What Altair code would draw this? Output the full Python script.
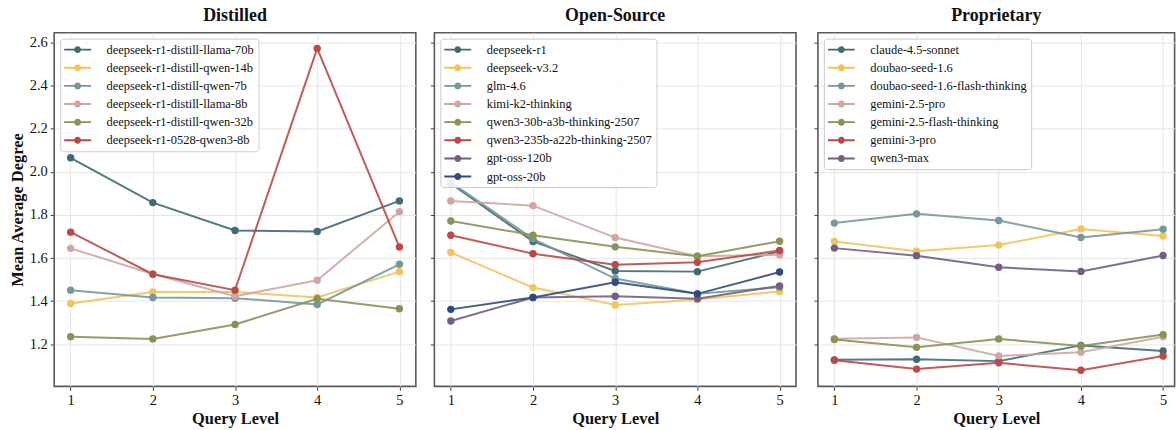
import altair as alt
import pandas as pd

levels = [1, 2, 3, 4, 5]

colors = ["#3E6B74", "#F2C35F", "#75999A", "#CFA6A3", "#8A9356", "#B94A48", "#735F83", "#2E4B7B"]

distilled_models = [
    "deepseek-r1-distill-llama-70b",
    "deepseek-r1-distill-qwen-14b",
    "deepseek-r1-distill-qwen-7b",
    "deepseek-r1-distill-llama-8b",
    "deepseek-r1-distill-qwen-32b",
    "deepseek-r1-0528-qwen3-8b",
]
distilled_values = [
    [2.065, 1.857, 1.728, 1.723, 1.865],
    [1.389, 1.443, 1.443, 1.417, 1.537],
    [1.451, 1.417, 1.414, 1.385, 1.571],
    [1.645, 1.526, 1.423, 1.497, 1.815],
    [1.235, 1.225, 1.292, 1.411, 1.365],
    [1.720, 1.525, 1.451, 2.572, 1.651],
]

open_models = [
    "deepseek-r1",
    "deepseek-v3.2",
    "glm-4.6",
    "kimi-k2-thinking",
    "qwen3-30b-a3b-thinking-2507",
    "qwen3-235b-a22b-thinking-2507",
    "gpt-oss-120b",
    "gpt-oss-20b",
]
open_values = [
    [1.946, 1.677, 1.540, 1.537, 1.631],
    [1.626, 1.463, 1.382, 1.408, 1.445],
    [1.951, 1.689, 1.505, 1.434, 1.465],
    [1.865, 1.843, 1.695, 1.608, 1.615],
    [1.772, 1.706, 1.652, 1.608, 1.678],
    [1.706, 1.620, 1.569, 1.580, 1.635],
    [1.308, 1.417, 1.423, 1.411, 1.471],
    [1.362, 1.417, 1.488, 1.434, 1.535],
]

prop_models = [
    "claude-4.5-sonnet",
    "doubao-seed-1.6",
    "doubao-seed-1.6-flash-thinking",
    "gemini-2.5-pro",
    "gemini-2.5-flash-thinking",
    "gemini-3-pro",
    "qwen3-max",
]
prop_values = [
    [1.128, 1.131, 1.122, 1.195, 1.169],
    [1.677, 1.632, 1.660, 1.735, 1.702],
    [1.762, 1.805, 1.774, 1.695, 1.734],
    [1.226, 1.232, 1.146, 1.163, 1.235],
    [1.222, 1.186, 1.225, 1.192, 1.245],
    [1.126, 1.085, 1.114, 1.080, 1.146],
    [1.646, 1.611, 1.557, 1.538, 1.612],
]

y_ticks = [1.2, 1.4, 1.6, 1.8, 2.0, 2.2, 2.4, 2.6]

FONT = "Liberation Serif"
SYMBOL = "M-1.93,-0.14H1.93V0.14H-1.93Z M0.5,0A0.5,0.5 0 1,1 -0.5,0A0.5,0.5 0 1,1 0.5,0Z"


def panel(title, models, values, first, width, xmax):
    rows = []
    for m, vals in zip(models, values):
        for lv, v in zip(levels, vals):
            rows.append({"model": m, "level": lv, "value": v})
    df = pd.DataFrame(rows)
    pal = colors[: len(models)]
    cscale = alt.Scale(domain=models, range=pal)
    # reversed order so the (hidden) stroke legend is not merged with the colour legend
    sscale = alt.Scale(domain=models[::-1], range=pal[::-1])
    x = alt.X(
        "level:Q",
        scale=alt.Scale(domain=[0.8, xmax], nice=False, zero=False),
        axis=alt.Axis(values=levels, format="d", title="Query Level"),
    )
    if first:
        yaxis = alt.Axis(values=y_ticks, format=".1f", title="Mean Average Degree")
    else:
        yaxis = alt.Axis(values=y_ticks, labels=False, title=None)
    y = alt.Y("value:Q", scale=alt.Scale(domain=[1.005, 2.645], nice=False, zero=False), axis=yaxis)
    lines = alt.Chart(df).mark_line(strokeWidth=2, opacity=0.9).encode(
        x=x, y=y, stroke=alt.Stroke("model:N", scale=sscale, legend=None)
    )
    pts = alt.Chart(df).mark_circle(size=55, opacity=1).encode(
        x=x,
        y=y,
        color=alt.Color(
            "model:N",
            scale=cscale,
            legend=alt.Legend(
                title=None,
                orient="top-left",
                offset=6,
                symbolType=SYMBOL,
                symbolSize=196,
                symbolStrokeWidth=0,
                symbolOffset=6.5,
                labelOffset=22,
            ),
        ),
    )
    return alt.layer(lines, pts).properties(width=width, height=355, title=title)


p1 = panel("Distilled", distilled_models, distilled_values, True, 363, 5.2)
p2 = panel("Open-Source", open_models, open_values, False, 363, 5.2)
p3 = panel("Proprietary", prop_models, prop_values, False, 358, 5.14)

inner = (
    alt.hconcat(p2, p3, spacing=15)
    .resolve_scale(color="independent", stroke="independent")
    .resolve_legend(color="independent", stroke="independent")
)

chart = (
    alt.hconcat(p1, inner, spacing=11.6)
    .resolve_scale(color="independent", stroke="independent")
    .resolve_legend(color="independent", stroke="independent")
    .properties(padding={"left": 8.4, "top": 5, "right": 0, "bottom": 0})
    .configure_view(stroke="#5a5a5a", strokeWidth=1.6)
    .configure_axis(
        grid=True,
        gridColor="#e6e6e6",
        gridWidth=1,
        domain=False,
        tickColor="#444444",
        tickSize=4,
        labelFont=FONT,
        labelFontSize=14.5,
        labelColor="#111111",
        titleFont=FONT,
        titleFontSize=16.5,
        titleFontWeight="bold",
        titleColor="#111111",
    )
    .configure_axisX(labelPadding=3, titlePadding=4)
    .configure_axisY(labelPadding=3, titlePadding=4)
    .configure_title(font=FONT, fontSize=18, fontWeight="bold", color="#111111", offset=8, anchor="middle")
    .configure_legend(
        labelFont=FONT,
        labelFontSize=12.5,
        labelColor="#111111",
        padding=4,
        cornerRadius=3,
        strokeColor="#cccccc",
        fillColor="rgba(255,255,255,0.85)",
        rowPadding=4.2,
        labelLimit=400,
    )
)

chart.save("out.html", embed_options={"renderer": "svg", "actions": False})
